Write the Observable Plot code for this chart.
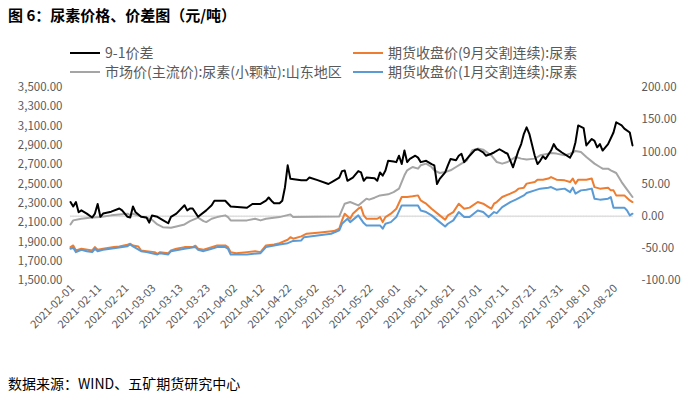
<!DOCTYPE html>
<html><head><meta charset="utf-8">
<script src="https://cdn.jsdelivr.net/npm/d3@7"></script>
<script src="https://cdn.jsdelivr.net/npm/@observablehq/plot@0.6"></script>
<style>
body{margin:0;background:#fff;font-family:"Noto Sans CJK SC",sans-serif;}
#wrap{position:relative;width:700px;height:401px;overflow:hidden;background:#fff;}
#title{position:absolute;left:8px;top:4px;font-size:15px;font-weight:bold;color:#000;line-height:22px;white-space:nowrap;}
.lg{position:absolute;font-size:14px;color:#595959;line-height:16px;white-space:nowrap;}
.lg i{display:inline-block;width:30px;height:2px;vertical-align:middle;margin-right:5px;position:relative;top:-1px;}
#chart{position:absolute;left:0;top:80px;}
#cap{position:absolute;left:8px;top:373px;font-size:14px;color:#000;white-space:nowrap;}
</style></head>
<body>
<div id="wrap">
  <div id="title">图 6：尿素价格、价差图（元/吨）</div>
  <div class="lg" style="left:70px;top:44px"><i style="background:#000"></i>9-1价差</div>
  <div class="lg" style="left:70px;top:63px"><i style="background:#A5A5A5"></i>市场价(主流价):尿素(小颗粒):山东地区</div>
  <div class="lg" style="left:353px;top:44px"><i style="background:#ED7D31"></i>期货收盘价(9月交割连续):尿素</div>
  <div class="lg" style="left:353px;top:63px"><i style="background:#5B9BD5"></i>期货收盘价(1月交割连续):尿素</div>
  <div id="chart"></div>
  <div id="cap">数据来源：WIND、五矿期货研究中心</div>
</div>
<script>
// ---- data (2021, MM-DD) ----
const spreadDates = ["02-01","02-02","02-03","02-04","02-05","02-07","02-09","02-10","02-11","02-12","02-13","02-16","02-19","02-20","02-22","02-23","02-24","02-25","02-27","03-01","03-02","03-03","03-05","03-07","03-09","03-10","03-12","03-15","03-16","03-17","03-18","03-20","03-23","03-25","03-26","03-30","04-01","04-07","04-09","04-12","04-14","04-15","04-16","04-17","04-19","04-20","04-21","04-22","04-23","04-27","04-29","04-30","05-03","05-07","05-09","05-11","05-12","05-13","05-14","05-16","05-18","05-19","05-20","05-21","05-24","05-25","05-26","05-27","05-28","05-29","05-31","06-01","06-02","06-03","06-04","06-05","06-06","06-08","06-09","06-10","06-12","06-14","06-15","06-16","06-17","06-19","06-20","06-21","06-23","06-24","06-25","06-26","06-27","06-28","06-30","07-01","07-03","07-04","07-06","07-07","07-09","07-11","07-12","07-14","07-15","07-16","07-17","07-18","07-19","07-20","07-22","07-23","07-24","07-25","07-26","07-28","07-29","07-30","08-01","08-04","08-05","08-06","08-07","08-09","08-10","08-12","08-13","08-14","08-15","08-16","08-18","08-20","08-21","08-23","08-24","08-26","08-27"];
const spreadVals = [22,15,22,6,9,4,-2,4,19,-1,4,7,12,9,-1,-2,15,6,-1,-2,-10,1,-1,-6,-11,-1,4,17,9,12,12,-1,9,17,24,24,15,13,19,19,24,29,24,20,20,24,45,79,58,56,56,60,56,50,55,60,70,71,55,60,70,68,55,60,59,55,68,63,71,86,85,84,94,81,102,84,89,94,91,84,86,81,79,50,58,68,79,89,87,94,97,84,89,94,103,104,99,94,97,99,104,99,97,76,89,102,112,128,138,128,94,81,86,93,89,102,112,105,99,91,99,115,141,137,110,120,117,107,112,102,112,130,146,141,136,130,110];

const marketDates = ["02-01","02-02","02-05","02-08","02-12","02-16","02-19","02-22","02-23","02-24","02-27","03-01","03-03","03-05","03-07","03-10","03-12","03-15","03-17","03-20","03-22","03-23","03-25","03-27","03-30","03-31","04-01","04-07","04-10","04-12","04-14","04-19","04-23","04-24","05-11","05-13","05-15","05-18","05-21","05-22","05-24","05-26","05-29","05-31","06-02","06-04","06-05","06-06","06-07","06-09","06-10","06-12","06-14","06-15","06-17","06-19","06-21","06-23","06-25","06-27","06-29","07-01","07-03","07-05","07-06","07-08","07-10","07-12","07-14","07-15","07-17","07-19","07-22","07-24","07-27","07-28","07-30","08-02","08-04","08-06","08-08","08-10","08-13","08-15","08-16","08-18","08-19","08-21","08-23","08-25","08-27"];
const marketVals = [2081,2123,2140,2151,2157,2175,2185,2192,2175,2192,2164,2151,2130,2081,2053,2047,2060,2081,2115,2151,2115,2105,2140,2157,2175,2157,2123,2123,2140,2123,2140,2157,2185,2157,2164,2296,2313,2278,2348,2338,2358,2382,2393,2416,2452,2590,2642,2659,2676,2659,2694,2711,2676,2642,2614,2624,2642,2676,2711,2745,2849,2867,2856,2815,2797,2728,2711,2728,2763,2780,2763,2753,2763,2797,2815,2821,2815,2797,2815,2842,2832,2780,2711,2676,2659,2659,2642,2614,2520,2441,2365];

const sepDates = ["02-01","02-02","02-03","02-05","02-09","02-10","02-11","02-13","02-17","02-19","02-22","02-23","02-24","02-26","02-27","03-01","03-04","03-05","03-06","03-09","03-10","03-12","03-15","03-18","03-19","03-20","03-22","03-25","03-27","03-30","03-31","04-01","04-03","04-07","04-10","04-12","04-14","04-17","04-19","04-22","04-23","04-24","04-27","04-29","05-04","05-09","05-11","05-12","05-13","05-15","05-16","05-18","05-19","05-20","05-21","05-25","05-26","05-27","05-28","05-30","06-01","06-03","06-05","06-07","06-09","06-10","06-11","06-12","06-14","06-17","06-19","06-20","06-22","06-24","06-26","06-28","07-01","07-03","07-05","07-06","07-07","07-08","07-10","07-13","07-15","07-16","07-18","07-19","07-22","07-23","07-25","07-27","07-28","07-30","08-02","08-04","08-05","08-06","08-07","08-10","08-12","08-13","08-15","08-18","08-19","08-20","08-21","08-24","08-26","08-27"];
const sepVals = [1846,1863,1811,1829,1811,1846,1819,1829,1846,1853,1871,1881,1863,1853,1811,1804,1794,1777,1794,1783,1811,1829,1846,1846,1860,1829,1819,1846,1863,1863,1846,1794,1783,1794,1804,1794,1863,1874,1887,1922,1949,1933,1957,1985,1998,2012,2037,2123,2192,2140,2192,2244,2261,2175,2140,2140,2157,2105,2157,2192,2244,2365,2365,2372,2382,2330,2313,2296,2244,2175,2130,2175,2209,2296,2244,2255,2313,2296,2261,2244,2296,2313,2365,2400,2427,2452,2462,2504,2520,2545,2545,2556,2572,2545,2538,2520,2556,2504,2545,2545,2556,2468,2452,2462,2434,2434,2382,2382,2330,2313];

const janDates = ["02-01","02-02","02-03","02-05","02-07","02-09","02-10","02-11","02-13","02-17","02-22","02-23","02-24","02-27","03-01","03-05","03-06","03-09","03-10","03-15","03-19","03-20","03-22","03-25","03-27","03-30","03-31","04-01","04-07","04-12","04-14","04-19","04-22","04-24","04-27","04-28","05-03","05-08","05-11","05-12","05-14","05-15","05-18","05-20","05-21","05-26","05-27","05-28","05-30","06-01","06-03","06-09","06-10","06-12","06-14","06-17","06-19","06-20","06-22","06-24","06-26","06-28","07-01","07-03","07-05","07-07","07-08","07-10","07-13","07-15","07-18","07-19","07-22","07-24","07-27","07-28","07-30","08-02","08-04","08-05","08-06","08-08","08-10","08-12","08-13","08-15","08-18","08-19","08-20","08-24","08-25","08-26","08-27"];
const janVals = [1829,1839,1794,1819,1804,1794,1829,1804,1819,1835,1856,1874,1853,1804,1794,1770,1783,1770,1804,1829,1846,1819,1804,1829,1846,1846,1829,1770,1770,1783,1846,1874,1887,1910,1915,1949,1967,1985,2019,2088,2140,2105,2175,2095,2071,2071,2037,2088,2105,2157,2278,2278,2226,2209,2175,2105,2060,2088,2123,2209,2157,2157,2226,2209,2157,2209,2198,2261,2313,2338,2382,2406,2434,2452,2462,2468,2441,2452,2416,2462,2400,2434,2441,2452,2348,2338,2348,2365,2255,2255,2226,2175,2192];

const xTickLabels = ["2021-02-01","2021-02-11","2021-02-21","2021-03-03","2021-03-13","2021-03-23","2021-04-02","2021-04-12","2021-04-22","2021-05-02","2021-05-12","2021-05-22","2021-06-01","2021-06-11","2021-06-21","2021-07-01","2021-07-11","2021-07-21","2021-07-31","2021-08-10","2021-08-20"];
const leftTicks = [1500,1700,1900,2100,2300,2500,2700,2900,3100,3300,3500];
const rightTicks = [-100,-50,0,50,100,150,200];

// ---- build ----
const parse = d3.utcParse("%Y-%m-%d");
const mk = (ds, vs) => ds.map((d, i) => ({date: parse("2021-" + d), v: vs[i]}));
const spread = mk(spreadDates, spreadVals);
const market = mk(marketDates, marketVals);
const sep = mk(sepDates, sepVals);
const jan = mk(janDates, janVals);
// secondary axis (-100..200) mapped onto primary (1500..3500)
const r2l = r => 1500 + (r + 100) * 2000 / 300;
const l2r = l => (l - 1500) * 300 / 2000 - 100;
const x0 = parse("2021-02-01"), x1 = parse("2021-08-27");
const xTicks = xTickLabels.map(parse);
const days = d3.utcDays(x0, d3.utcDay.offset(x1, 1));
const zeroL = r2l(0);
const fmtL = d3.format(",.2f");

const chart = Plot.plot({
  width: 700, height: 280,
  marginTop: 7, marginBottom: 80, marginLeft: 70, marginRight: 68,
  style: {fontFamily: "'Noto Sans CJK SC', sans-serif", background: "transparent", overflow: "visible"},
  x: {type: "utc", domain: [x0, x1]},
  y: {domain: [1500, 3500]},
  marks: [
    Plot.axisY(leftTicks, {anchor: "left", tickSize: 0, tickPadding: 8, tickFormat: fmtL, fontSize: 11.5, color: "#595959", label: null}),
    Plot.axisY(rightTicks.map(r2l), {anchor: "right", tickSize: 0, tickPadding: 9, tickFormat: d => (Math.round(l2r(d) * 100) / 100 + 0).toFixed(2), fontSize: 11.5, color: "#595959", label: null}),
    Plot.axisX(xTicks, {anchor: "bottom", tickSize: 0, tickPadding: 6, tickRotate: -45, tickFormat: d3.utcFormat("%Y-%m-%d"), fontSize: 11, color: "#595959", label: null, dx: 2}),
    Plot.ruleY([zeroL], {stroke: "#D0D0D0", strokeWidth: 1}),
    Plot.ruleX(days, {x: d => d, y1: zeroL, y2: zeroL - 16, stroke: "#DDDDDD", strokeWidth: 0.8}),
    Plot.line(market, {x: "date", y: "v", stroke: "#A5A5A5", strokeWidth: 2, strokeLinejoin: "round"}),
    Plot.line(sep, {x: "date", y: "v", stroke: "#ED7D31", strokeWidth: 2, strokeLinejoin: "round"}),
    Plot.line(jan, {x: "date", y: "v", stroke: "#5B9BD5", strokeWidth: 2, strokeLinejoin: "round"}),
    Plot.line(spread, {x: "date", y: d => r2l(d.v), stroke: "#000000", strokeWidth: 2, strokeLinejoin: "round"})
  ]
});
document.getElementById("chart").appendChild(chart);
</script>
</body></html>
